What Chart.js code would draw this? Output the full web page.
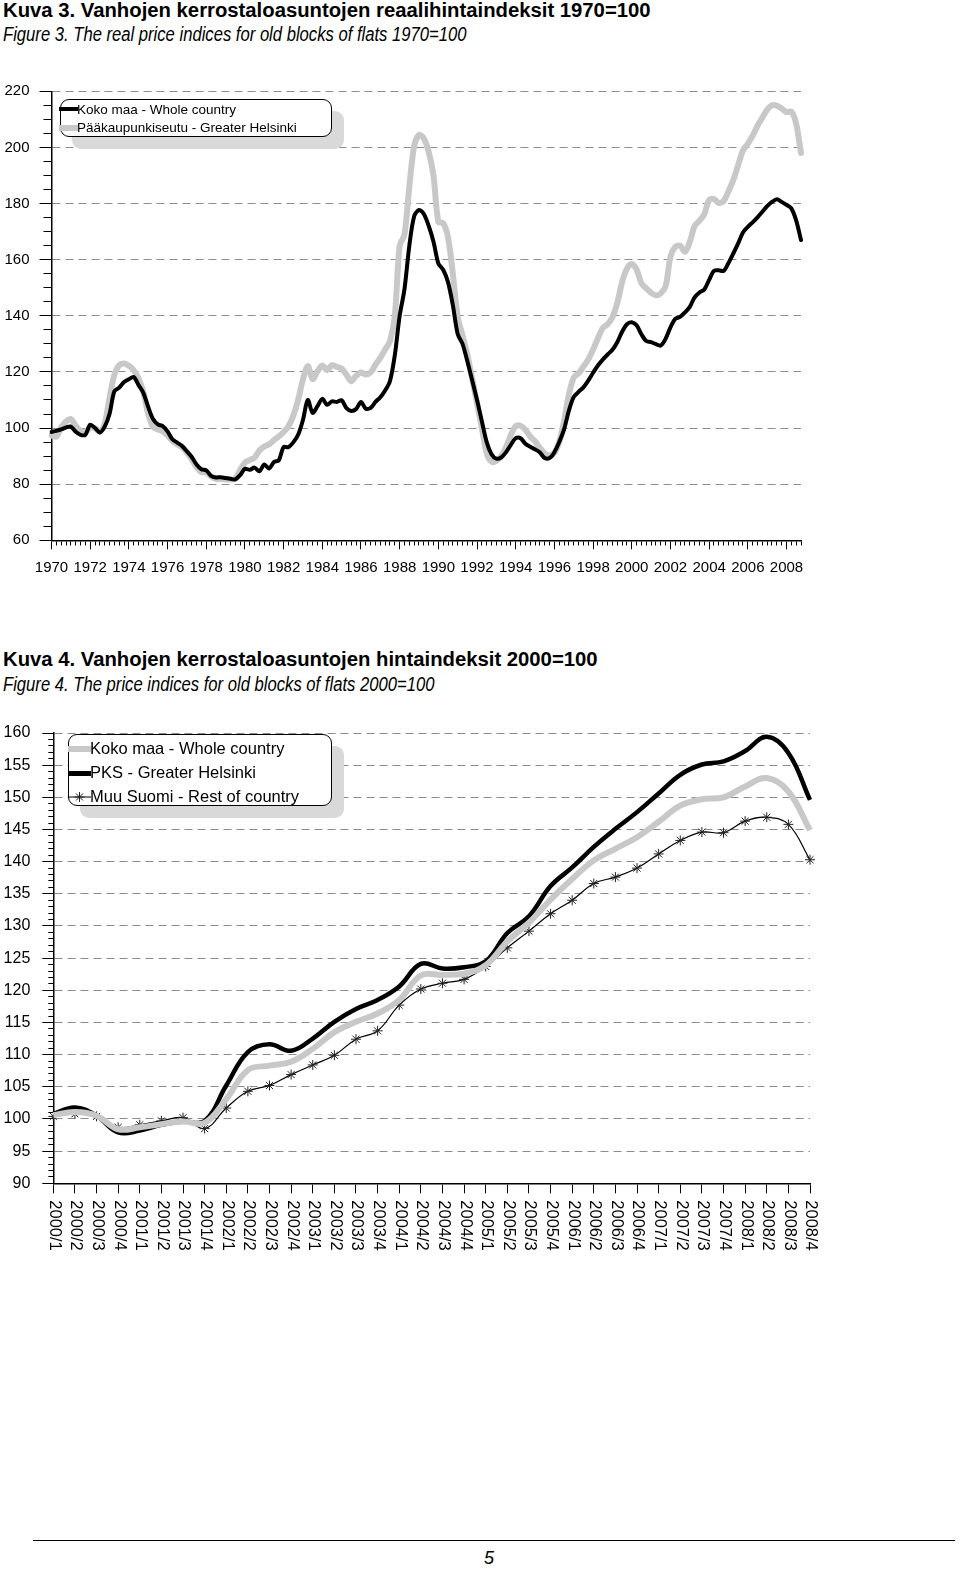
<!DOCTYPE html>
<html>
<head>
<meta charset="utf-8">
<script src="https://cdn.jsdelivr.net/npm/chart.js@4.4.1/dist/chart.umd.min.js"></script>
<style>
  body { margin: 0; background: #fff; }
  #page { position: relative; width: 960px; height: 1575px; font-family: "Liberation Sans", Arial, sans-serif; color: #000; }
  .title { position: absolute; left: 3px; font-weight: bold; font-size: 20px; white-space: nowrap; line-height: 1; }
  .sub { position: absolute; left: 3px; font-style: italic; font-size: 18px; white-space: nowrap; line-height: 1; transform-origin: 0 0; transform: scaleY(1.2); }
  canvas { position: absolute; left: 0; }
  .legend { position: absolute; background: #fff; border: 1.5px solid #000; border-radius: 9px; box-shadow: 12px 12px 0 #d9d9d9; box-sizing: border-box; }
  .row { position: absolute; white-space: nowrap; line-height: 1; }
  .sw { position: absolute; }
</style>
</head>
<body>
<div id="page">
  <div class="title" style="top:0px" data-w="648">Kuva 3. Vanhojen kerrostaloasuntojen reaalihintaindeksit 1970=100</div>
  <div class="sub" style="top:25px" data-w="464">Figure 3. The real price indices for old blocks of flats 1970=100</div>

  <canvas id="chart1" width="830" height="500" style="top:82px"></canvas>

  <div class="legend" style="left:60px; top:99px; width:272px; height:38px;">
    <div class="sw" style="left:-2px; top:7px; width:19px; height:4px; background:#000;"></div>
    <div class="row" style="left:16px; top:3px; font-size:13.5px;">Koko maa - Whole country</div>
    <div class="sw" style="left:-2px; top:25px; width:19px; height:6px; background:#c8c8c8;"></div>
    <div class="row" style="left:16px; top:21px; font-size:13.5px;">Pääkaupunkiseutu - Greater Helsinki</div>
  </div>

  <div class="title" style="top:649px" data-w="595">Kuva 4. Vanhojen kerrostaloasuntojen hintaindeksit 2000=100</div>
  <div class="sub" style="top:675px" data-w="432">Figure 4. The price indices for old blocks of flats 2000=100</div>

  <canvas id="chart2" width="840" height="545" style="top:721px"></canvas>

  <div class="legend" style="left:68px; top:734px; width:264px; height:72px;">
    <div class="sw" style="left:-1px; top:11px; width:23px; height:6px; background:#c8c8c8;"></div>
    <div class="row" style="left:21px; top:5px; font-size:16.5px;">Koko maa - Whole country</div>
    <div class="sw" style="left:-1px; top:36px; width:23px; height:4.5px; background:#000;"></div>
    <div class="row" style="left:21px; top:29px; font-size:16.5px;">PKS - Greater Helsinki</div>
    <svg class="sw" style="left:-1px; top:55px;" width="23" height="14" viewBox="0 0 23 14">
      <line x1="0" y1="7" x2="23" y2="7" stroke="#000" stroke-width="1"/>
      <g stroke="#222" stroke-width="1">
        <line x1="11.5" y1="2" x2="11.5" y2="12"/>
        <line x1="6.5" y1="7" x2="16.5" y2="7"/>
        <line x1="8" y1="3.5" x2="15" y2="10.5"/>
        <line x1="15" y1="3.5" x2="8" y2="10.5"/>
      </g>
    </svg>
    <div class="row" style="left:21px; top:53px; font-size:16.5px;">Muu Suomi - Rest of country</div>
  </div>

  <div style="position:absolute; left:33px; top:1540px; width:922px; border-top:1px solid #000;"></div>
  <div style="position:absolute; left:484px; top:1548px; font-size:18px; font-style:italic;">5</div>
</div>

<script>
// Figure 3: quarterly real price indices 1970/1 - 2008/4 (1970=100)
const firstYear1 = 1970, lastYear1 = 2008;
const quarters1 = [];
for (let y = firstYear1; y <= lastYear1; y++) {
  for (let q = 1; q <= 4; q++) quarters1.push(y + '/' + q);
}

const kokoMaaReal = [
  98.6, 99, 99.5, 100.2, 100.5, 98.7, 97.6, 97.6, 101.2, 100,
  98.4, 100.5, 105, 113.1, 114.4, 116.4, 117.4, 118.2, 115.3, 112.5,
  107.5, 103.2, 101.3, 100.7, 98.8, 96, 94.8, 93.6, 91.7, 89.7,
  87, 85.3, 84.9, 83, 82.4, 82.5, 82.2, 81.9, 81.7, 83.2,
  85.5, 85.1, 85.9, 84.6, 87, 85.6, 87.9, 88.5, 93.2, 93.2,
  94.9, 97.6, 102.9, 110, 105.4, 107.8, 110.4, 108.3, 109.5, 109.3,
  109.9, 107.1, 106.1, 106.8, 109.3, 106.9, 107.2, 109.3, 111, 113.4,
  116.8, 126, 140, 149.5, 165, 175.5, 177.7, 176.3, 172.1, 166.4,
  158.7, 156.4, 152, 143.8, 133.5, 130, 123.8, 117, 110, 102.4,
  95, 90.7, 89.1, 89.5, 91.4, 94, 96.4, 96.4, 94.4, 93.3,
  92.4, 91.3, 89.3, 89.3, 91.4, 95, 99.5, 106.2, 111.1, 112.9,
  114.5, 116.9, 119.7, 122.3, 124.4, 126.2, 127.9, 130.6, 134.3, 137,
  137.7, 136.6, 133.4, 131, 130.6, 129.9, 129.4, 131.8, 135.9, 138.9,
  139.6, 141.2, 143.2, 146.6, 148.3, 149.4, 152.8, 156, 156.2, 156,
  158.8, 162.2, 165.8, 169.7, 171.7, 173.3, 175.1, 177.1, 179.1, 180.6,
  181.5, 180.6, 179.5, 178.3, 174, 167
];

const helsinkiReal = [
  97.4, 96.9, 100.2, 102.3, 103.2, 100.8, 99, 98.6, 100.2, 99.9,
  98.8, 101.5, 110.7, 119, 122.4, 123, 122.2, 120.6, 117.7, 112.8,
  105, 100.4, 99.5, 98.9, 97.3, 95.5, 94.2, 93.2, 91.3, 88.8,
  86.1, 84.3, 84.2, 82.8, 81.9, 81.9, 81.7, 81.7, 81.9, 85,
  87.7, 88.6, 89.5, 92, 93.4, 94.2, 95.7, 97, 98.6, 100.6,
  104.4, 110, 117.3, 122.1, 117.4, 120.2, 122.3, 120.6, 122.4, 121.8,
  121.2, 119, 116.7, 118.6, 119.8, 119.1, 119.8, 122.6, 125, 128,
  131, 140, 165, 169, 186, 200.5, 204.5, 203.2, 198.5, 190,
  173.5, 173, 168, 155, 139.5, 133, 126.2, 117.5, 109, 100,
  91, 88, 88.3, 90, 93.2, 97.5, 100.7, 100.8, 99.4, 97,
  95.3, 92.9, 91, 90.2, 91.2, 95, 102.5, 112, 118, 119.5,
  121.9, 124.4, 128, 132, 135.6, 137, 139.5, 144.5, 152, 156.8,
  158.5, 156.5, 151.6, 149.8, 148.2, 147.3, 148, 150.5, 161, 164.6,
  165, 162.8, 166.3, 172, 173.9, 176.2, 181.3, 181.6, 180.2, 180.9,
  184.4, 188.4, 193.7, 198.9, 201.3, 204.2, 207.7, 210.6, 213.5, 215,
  214.9, 213.9, 212.6, 212.7, 208.5, 198
];

// Figure 4: quarterly price indices 2000/1 - 2008/4 (2000=100)
const quarters2 = [];
for (let y = 2000; y <= 2008; y++) {
  for (let q = 1; q <= 4; q++) quarters2.push(y + '/' + q);
}

const kokoMaa = [
  100.6, 101.1, 100.5, 98.4, 98.7, 99.2, 99.6, 99.4, 103.1, 107.6,
  108.3, 108.9, 110.9, 113.5, 115.1, 116.4, 118.5, 122.3, 122.4, 122.6,
  123.9, 127.6, 130.5, 134.1, 137.3, 140.2, 142, 143.8, 146.2, 148.7,
  149.7, 150, 151.7, 153, 150.9, 144.9
];
const pks = [
  100.8, 101.8, 100.5, 97.9, 98.2, 99.1, 99.6, 99.7, 105.2, 110.4,
  111.6, 110.6, 112.5, 115.1, 117.1, 118.5, 120.6, 124.1, 123.4, 123.6,
  124.5, 128.9, 131.5, 136.2, 139.1, 142.3, 145.1, 147.7, 150.6, 153.5,
  155.1, 155.6, 157.2, 159.4, 156.9, 149.6
];
const muuSuomi = [
  100.4, 100.8, 100.4, 98.7, 99.1, 99.7, 100.2, 98.5, 101.7, 104.3,
  105.2, 106.9, 108.4, 109.9, 112.4, 113.7, 117.7, 120.2, 121.1, 121.7,
  123.7, 126.6, 129.2, 131.9, 134, 136.6, 137.6, 139, 141.2, 143.3,
  144.6, 144.5, 146.3, 146.9, 145.8, 140.3
];

const GREY = '#c8c8c8';
const GRID = '#8c8c8c';
const FONT = '"Liberation Sans", Arial, sans-serif';

Chart.defaults.font.family = FONT;
Chart.defaults.color = '#000';

// fit the headings to the widths they have in the picture
document.querySelectorAll('[data-w]').forEach(el => {
  const w = el.getBoundingClientRect().width;
  const fs = parseFloat(getComputedStyle(el).fontSize);
  el.style.fontSize = (fs * (+el.dataset.w) / w) + 'px';
});

// Figure 3
// y ticks: long tick mark with no label padding; the dash keeps only the
// part next to the axis visible (12px for majors, 8px for minors)
new Chart(document.getElementById('chart1'), {
  type: 'line',
  data: {
    labels: quarters1,
    datasets: [
      {
        label: 'Koko maa - Whole country',
        data: kokoMaaReal,
        borderColor: '#000',
        borderWidth: 4,
        pointRadius: 0,
        tension: 0.3,
        borderJoinStyle: 'round',
        borderCapStyle: 'round'
      },
      {
        label: 'Pääkaupunkiseutu - Greater Helsinki',
        data: helsinkiReal,
        borderColor: GREY,
        borderWidth: 6,
        pointRadius: 0,
        tension: 0.3,
        borderJoinStyle: 'round',
        borderCapStyle: 'round'
      }
    ]
  },
  options: {
    responsive: false,
    animation: false,
    layout: { padding: { top: 9.3, right: 29, left: 0, bottom: 0 } },
    plugins: { legend: { display: false }, tooltip: { enabled: false } },
    scales: {
      x: {
        afterFit: s => { s.height = 41.7; },
        grid: {
          drawOnChartArea: false,
          tickLength: 9,
          tickColor: '#000',
          tickBorderDash: c => (c.index % 8 === 0 ? [] : [4, 20])
        },
        border: { color: '#000', width: 1.5 },
        ticks: {
          autoSkip: false,
          maxRotation: 0,
          minRotation: 0,
          padding: 10,
          font: { size: 15 },
          callback: (v, i) => (i % 8 === 0 ? quarters1[i].slice(0, 4) : '')
        }
      },
      y: {
        min: 60,
        max: 220,
        afterFit: s => { s.width = 51.5; },
        grid: {
          color: c => (c.tick && c.tick.value % 20 === 0 ? GRID : 'transparent'),
          tickLength: 22,
          tickColor: '#000',
          tickBorderDash: c => (c.tick && c.tick.value % 20 === 0 ? [0, 10, 12, 0] : [0, 14, 8, 0])
        },
        border: { color: '#000', width: 1.5, dash: [8, 5] },
        ticks: {
          stepSize: 5,
          autoSkip: false,
          padding: 0,
          font: { size: 15 },
          callback: v => (v % 20 === 0 ? v : '')
        }
      }
    }
  }
});

// Figure 4: x labels read top to bottom, drawn here at the scale's tick positions
const downLabels = {
  id: 'downLabels',
  afterDraw(chart) {
    const x = chart.scales.x;
    const ctx = chart.ctx;
    ctx.save();
    ctx.font = '16.5px ' + FONT;
    ctx.fillStyle = '#000';
    ctx.textAlign = 'left';
    ctx.textBaseline = 'middle';
    x.ticks.forEach((t, i) => {
      ctx.save();
      ctx.translate(x.getPixelForTick(i) + 1, x.top + 17);
      ctx.rotate(Math.PI / 2);
      ctx.fillText(quarters2[i], 0, 0);
      ctx.restore();
    });
    ctx.restore();
  }
};

new Chart(document.getElementById('chart2'), {
  type: 'line',
  data: {
    labels: quarters2,
    datasets: [
      {
        label: 'Koko maa - Whole country',
        data: kokoMaa,
        borderColor: GREY,
        borderWidth: 6,
        pointRadius: 0,
        tension: 0.4
      },
      {
        label: 'PKS - Greater Helsinki',
        data: pks,
        borderColor: '#000',
        borderWidth: 4.5,
        pointRadius: 0,
        tension: 0.4
      },
      {
        label: 'Muu Suomi - Rest of country',
        data: muuSuomi,
        borderColor: '#000',
        borderWidth: 1.2,
        pointStyle: 'star',
        pointRadius: 5,
        pointBorderWidth: 1,
        pointBorderColor: '#222',
        pointBackgroundColor: '#222',
        tension: 0.4
      }
    ]
  },
  options: {
    responsive: false,
    animation: false,
    layout: { padding: { top: 12, right: 30, left: 0, bottom: 0 } },
    plugins: { legend: { display: false }, tooltip: { enabled: false } },
    scales: {
      x: {
        afterFit: s => { s.height = 82.7; },
        grid: { drawOnChartArea: false, tickLength: 10, tickColor: '#000' },
        border: { color: '#000', width: 1.5 },
        ticks: { display: false, autoSkip: false }
      },
      y: {
        min: 90,
        max: 160,
        afterFit: s => { s.width = 53.3; },
        grid: {
          color: c => (c.tick && c.tick.value % 5 === 0 ? GRID : 'transparent'),
          tickLength: 23,
          tickColor: '#000',
          tickBorderDash: c => (c.tick && c.tick.value % 5 === 0 ? [0, 12, 11, 0] : [0, 18, 5, 0])
        },
        border: { color: '#000', width: 1.5, dash: [8, 5] },
        ticks: {
          stepSize: 1,
          autoSkip: false,
          padding: 0,
          font: { size: 16 },
          callback: v => (v % 5 === 0 ? v : '')
        }
      }
    }
  },
  plugins: [downLabels]
});
</script>
</body>
</html>
